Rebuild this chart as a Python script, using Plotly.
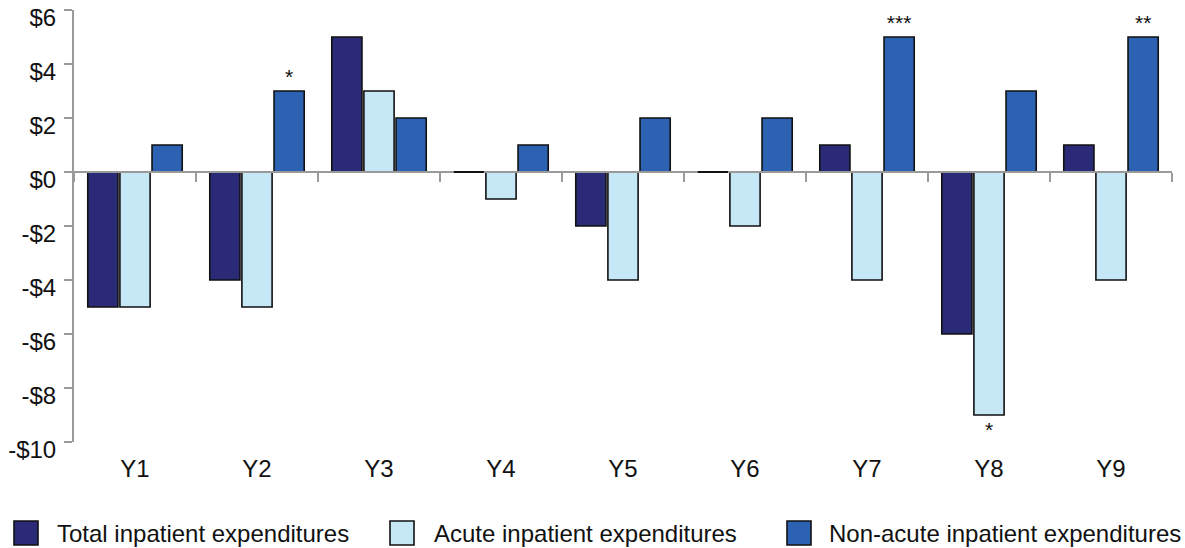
import plotly.graph_objects as go

# Change in inpatient expenditures by year (dollars)
years = ["Y1", "Y2", "Y3", "Y4", "Y5", "Y6", "Y7", "Y8", "Y9"]
total = [-5, -4, 5, 0, -2, 0, 1, -6, 1]
acute = [-5, -5, 3, -1, -4, -2, -4, -9, -4]
non_acute = [1, 3, 2, 1, 2, 2, 5, 3, 5]

# Significance markers per bar
total_sig = ["", "", "", "", "", "", "", "", ""]
acute_sig = ["", "", "", "", "", "", "", "*", ""]
non_acute_sig = ["", "*", "", "", "", "", "***", "", "**"]

y_ticks = [6, 4, 2, 0, -2, -4, -6, -8, -10]
y_tick_text = ["$6", "$4", "$2", "$0", "-$2", "-$4", "-$6", "-$8", "-$10"]

series = [
    ("Total inpatient expenditures", total, total_sig, "#2b2a77"),
    ("Acute inpatient expenditures", acute, acute_sig, "#c6e7f6"),
    ("Non-acute inpatient expenditures", non_acute, non_acute_sig, "#2d61b2"),
]

FONT = "Liberation Sans, Arial, sans-serif"
AXIS_GRAY = "#9a9a9a"
OUTLINE = "#111111"
BARGAP, BARGROUPGAP = 0.21, 0.06

fig = go.Figure()
for name, vals, sig, color in series:
    fig.add_trace(go.Bar(
        x=years, y=vals, name=name,
        marker=dict(color=color, line=dict(color=OUTLINE, width=1.6)),
        text=sig, textposition="outside", constraintext="none",
        textfont=dict(size=21, color=OUTLINE, family=FONT),
        cliponaxis=False, showlegend=False,
    ))

# Invisible traces carrying the zero-line category axis and the value-label axis
fig.add_trace(go.Scatter(x=years, y=[0] * len(years), xaxis="x2", mode="markers",
                         marker=dict(opacity=0), showlegend=False, hoverinfo="skip"))
fig.add_trace(go.Scatter(x=years, y=[0] * len(years), yaxis="y2", mode="markers",
                         marker=dict(opacity=0), showlegend=False, hoverinfo="skip"))

# Zero-valued bars are drawn as a flat outline at the baseline
n_series = len(series)
slot = (1 - BARGAP) / n_series
bar_w = slot * (1 - BARGROUPGAP)
for s_idx, (_, vals, _, _) in enumerate(series):
    center_off = -(1 - BARGAP) / 2 + slot * (s_idx + 0.5)
    for i, v in enumerate(vals):
        if v == 0:
            fig.add_shape(type="line", xref="x", yref="y",
                          x0=i + center_off - bar_w / 2, x1=i + center_off + bar_w / 2,
                          y0=v, y1=v, line=dict(color=OUTLINE, width=2), layer="above")

y_min, y_max = -10, 6
# Plot region in pixels; value labels hang LABEL_DROP px below their tick marks
TOP, BOTTOM, LABEL_DROP = 10, 450, 8
region_h = BOTTOM - TOP
drop = LABEL_DROP / region_h
main_dom = [drop, 1]
label_dom = [0, 1 - drop]
zero_pos = main_dom[0] + (main_dom[1] - main_dom[0]) * (0 - y_min) / (y_max - y_min)

no_margin = dict(automargin=False)
fig.update_layout(
    width=1185, height=548,
    margin=dict(l=74, r=13, t=TOP, b=548 - BOTTOM),
    paper_bgcolor="white", plot_bgcolor="rgba(0,0,0,0)",
    barmode="group", bargap=BARGAP, bargroupgap=BARGROUPGAP,
    font=dict(family=FONT, size=24, color=OUTLINE),
    xaxis=dict(type="category", categoryorder="array", categoryarray=years,
               range=[-0.5, 8.5], showline=False, ticks="", showgrid=False,
               tickfont=dict(size=24), ticklabelstandoff=10, **no_margin),
    xaxis2=dict(type="category", categoryorder="array", categoryarray=years,
                range=[-0.5, 8.5], overlaying="x", anchor="free", position=zero_pos,
                showline=True, linecolor=AXIS_GRAY, linewidth=2,
                ticks="outside", tickson="boundaries", ticklen=9, tickwidth=2,
                tickcolor=AXIS_GRAY, showticklabels=False, showgrid=False, **no_margin),
    yaxis=dict(domain=main_dom, range=[y_min, y_max], tickvals=y_ticks,
               showline=True, linecolor=AXIS_GRAY, linewidth=2,
               ticks="outside", ticklen=8, tickwidth=2, tickcolor=AXIS_GRAY,
               showticklabels=False, showgrid=False, zeroline=False, **no_margin),
    yaxis2=dict(domain=label_dom, range=[y_min, y_max], anchor="x", side="left",
                tickvals=y_ticks, ticktext=y_tick_text,
                showline=False, ticks="outside", ticklen=8, tickwidth=2,
                tickcolor="rgba(0,0,0,0)", showgrid=False, zeroline=False,
                tickfont=dict(size=24), ticklabelstandoff=4, **no_margin),
)

# Legend row beneath the chart
legend_items = [(s[0], s[3]) for s in series]
legend_box_x = [14, 390, 787]
legend_text_x = [55, 432, 827]
y_center = 533
box = 24
plot_l, plot_w = 74, 1098
for (name, color), bx, tx in zip(legend_items, legend_box_x, legend_text_x):
    fig.add_shape(type="rect", xref="paper", yref="paper",
                  x0=(bx - plot_l) / plot_w, x1=(bx + box - plot_l) / plot_w,
                  y0=-(y_center + box / 2 - BOTTOM) / region_h,
                  y1=-(y_center - box / 2 - BOTTOM) / region_h,
                  fillcolor=color, line=dict(color=OUTLINE, width=1.6))
    fig.add_annotation(text=name, xref="paper", yref="paper",
                       x=(tx - plot_l) / plot_w, y=-(y_center - BOTTOM) / region_h,
                       xanchor="left", yanchor="middle", showarrow=False,
                       font=dict(size=24, family=FONT, color=OUTLINE))

fig.write_html("out.html")
